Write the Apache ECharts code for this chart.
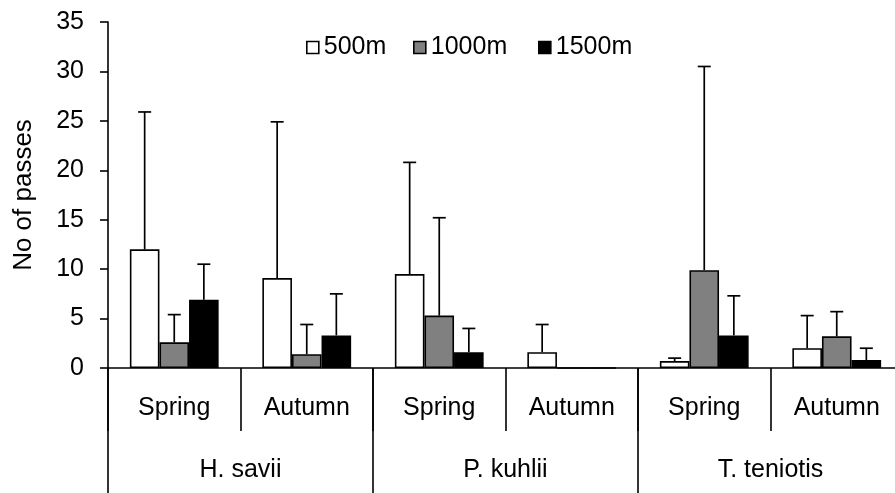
<!DOCTYPE html>
<html><head><meta charset="utf-8">
<script src="https://cdn.jsdelivr.net/npm/echarts@6/dist/echarts.min.js"></script>
<style>html,body{margin:0;padding:0;background:#fff;overflow:hidden;width:895px;height:493px}#c{width:905px;height:493px}</style>
</head><body><div id="c"></div>
<script>
const seasons = ['Spring','Autumn','Spring','Autumn','Spring','Autumn'];
const species = ['H. savii','P. kuhlii','T. teniotis'];
const yTicks = [0,5,10,15,20,25,30,35];
const seriesNames = ['500m','1000m','1500m'];
const mean500 = [12.0, 9.1, 9.5, 1.6, 0.7, 2.0];
const upper500 = [25.9, 24.9, 20.8, 4.4, 1.0, 5.3];
const mean1000 = [2.6, 1.4, 5.3, 0, 9.9, 3.2];
const upper1000 = [5.4, 4.4, 15.2, null, 30.5, 5.7];
const mean1500 = [6.9, 3.3, 1.6, 0, 3.3, 0.8];
const upper1500 = [10.5, 7.5, 4.0, null, 7.3, 2.0];

const FONT = 'Arial, "Liberation Sans", sans-serif';
const FS = 25;
const CAT_GAP = 0.33;
const means = [mean500, mean1000, mean1500];
const uppers = [upper500, upper1000, upper1500];
const colors = ['#ffffff', '#808080', '#000000'];
const legendLeft = [301, 408, 533];

const chart = echarts.init(document.getElementById('c'));

function errData(k){
  const out = [];
  means[k].forEach((m,i)=>{ if (uppers[k][i] != null) out.push([i, m, uppers[k][i]]); });
  return out;
}
function errRender(offset){
  return function(params, api){
    const x = api.value(0), lo = api.value(1), hi = api.value(2);
    const base = api.coord([x, lo]);
    const top = api.coord([x, hi]);
    const bandW = api.size([1,0])[0];
    const barW = bandW * (1 - CAT_GAP) / 3;
    const cx = base[0] + offset * barW;
    const half = 6.5;
    const st = {stroke:'#000', lineWidth:1.7};
    return {type:'group', children:[
      {type:'line', shape:{x1:cx, y1:base[1], x2:cx, y2:top[1]}, style:st},
      {type:'line', shape:{x1:cx-half, y1:top[1], x2:cx+half, y2:top[1]}, style:st}
    ]};
  };
}

const series = [];
seriesNames.forEach((n,k)=>{
  series.push({
    name:n, type:'bar', xAxisIndex:0, data:means[k],
    barGap:'0%', barCategoryGap:(CAT_GAP*100)+'%',
    itemStyle:{color:colors[k], borderColor:'#000', borderWidth:1.6},
    z:3
  });
});
seriesNames.forEach((n,k)=>{
  series.push({
    name:n+' err', type:'custom', xAxisIndex:0, data:errData(k),
    renderItem: errRender(k-1), z:2, silent:true
  });
});

const legends = seriesNames.map((n,k)=>({
  data:[n], left:legendLeft[k], top:30, itemWidth:12, itemHeight:12, itemTextGap:6,
  icon:'rect', itemStyle:{borderColor:'#000', borderWidth:1.6},
  textStyle:{fontSize:FS, color:'#000', fontFamily:FONT}
}));

chart.setOption({
  animation:false,
  backgroundColor:'#fff',
  textStyle:{fontFamily:FONT},
  grid:{left:108, top:22, bottom:125, right:2, containLabel:false},
  legend:legends,
  xAxis:[
    {type:'category', data:seasons, position:'bottom',
     axisLine:{show:true, lineStyle:{color:'#000', width:1.6}},
     axisTick:{show:true, length:63, lineStyle:{color:'#000', width:1.6}, alignWithLabel:false},
     axisLabel:{fontSize:FS, color:'#000', margin:28, fontFamily:FONT}
    },
    {type:'category', data:species, position:'bottom',
     axisLine:{show:false},
     axisTick:{show:true, length:125, lineStyle:{color:'#000', width:1.6}, alignWithLabel:false},
     axisLabel:{fontSize:FS, color:'#000', margin:90, fontFamily:FONT}
    }
  ],
  yAxis:{
    type:'value', min:yTicks[0], max:yTicks[yTicks.length-1], interval:5,
    name:'No of passes', nameLocation:'middle', nameGap:71,
    nameTextStyle:{fontSize:26, color:'#000', fontFamily:FONT},
    axisLine:{show:true, lineStyle:{color:'#000', width:1.6}},
    axisTick:{show:true, length:8, lineStyle:{color:'#000', width:1.6}},
    axisLabel:{fontSize:FS, color:'#000', margin:24, fontFamily:FONT},
    splitLine:{show:false}
  },
  series: series
});
</script></body></html>
